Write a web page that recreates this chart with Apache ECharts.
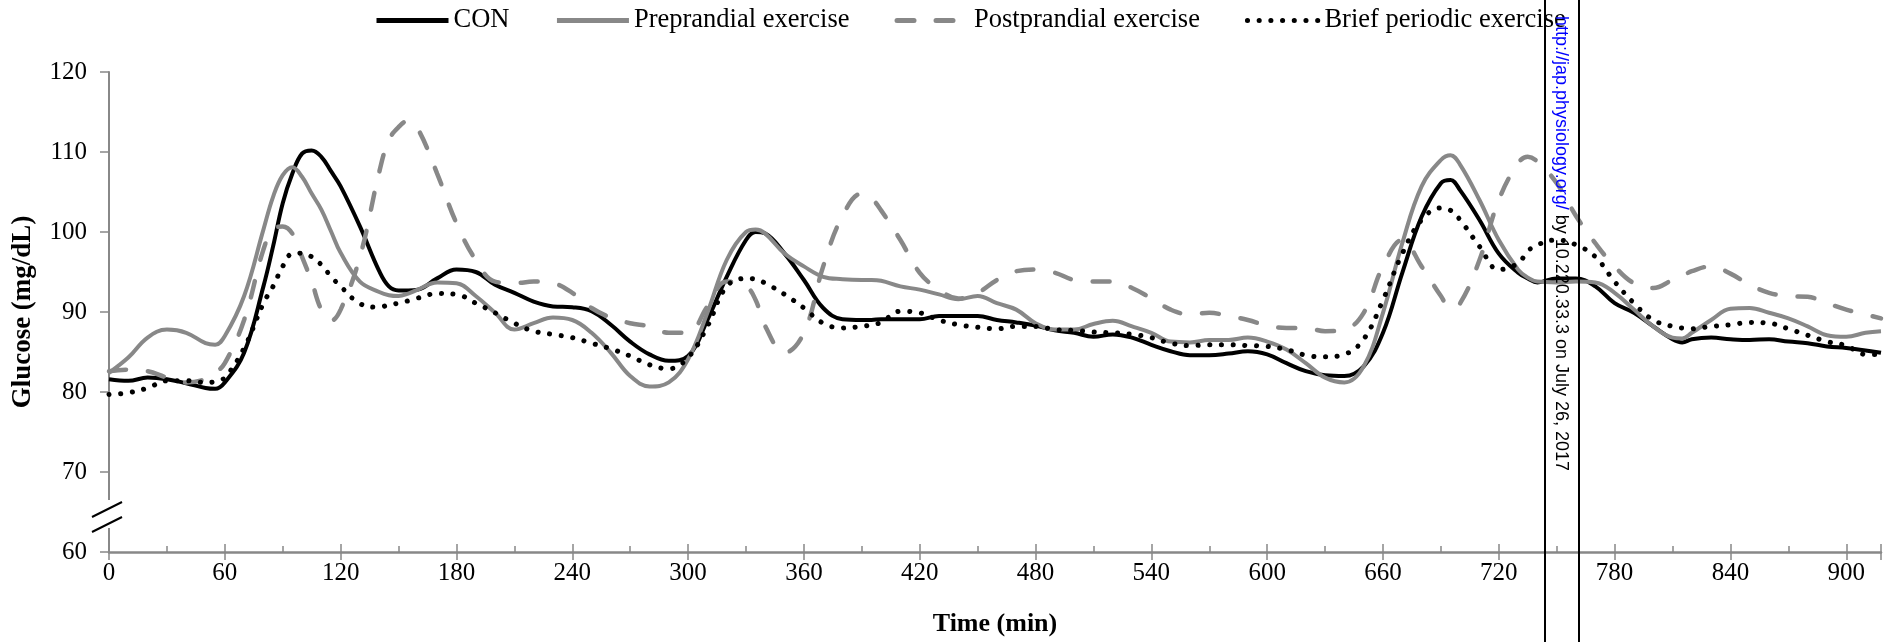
<!DOCTYPE html>
<html>
<head>
<meta charset="utf-8">
<script src="https://cdn.jsdelivr.net/npm/echarts@6/dist/echarts.min.js"></script>
<style>
html, body { margin: 0; padding: 0; background: #fff; }
#glucose { width: 1884px; height: 642px; }
</style>
</head>
<body>
<div id="glucose"></div>
<script>
// time points (min)
const minutes = [0, 10, 20, 30, 40, 50, 55, 60,
    70, 80, 85, 90, 95, 100, 105, 110, 115,
    120, 130, 140, 145, 150, 155, 160, 170, 180, 190,
    200, 210, 220, 230, 240, 250, 260, 270, 280, 290, 300,
    310, 320, 330, 335, 340, 350, 360, 370, 380, 390, 395, 400,
    410, 420, 430, 440, 450, 460, 470, 480, 490, 500,
    510, 520, 530, 540, 550, 560, 570, 580, 590, 600,
    610, 620, 630, 640, 650, 660, 670, 680, 690,
    695, 700, 710, 720, 730, 735, 740, 750, 760,
    770, 780, 790, 800, 810, 815, 820, 830, 840, 850, 860, 870, 880, 890, 900, 910, 918];

const con = [81.6, 81.4, 81.8, 81.6, 81.1, 80.5, 80.4, 81.2,
    84.9, 93.2, 98.2, 103.6, 107.3, 109.8, 110.2, 109.4, 107.6,
    105.7, 100.7, 95.1, 93.2, 92.7, 92.7, 92.8, 94.2, 95.3, 95.0,
    93.4, 92.4, 91.3, 90.7, 90.6, 90.1, 88.4, 86.3, 84.7, 83.9, 84.5,
    89.0, 94.4, 99.0, 100.0, 99.8, 97.3, 94.0, 90.5, 89.1, 89.0, 89.0, 89.1,
    89.1, 89.1, 89.5, 89.5, 89.5, 89.0, 88.7, 88.3, 87.7, 87.4,
    86.9, 87.2, 86.8, 85.9, 85.1, 84.6, 84.6, 84.8, 85.1, 84.7,
    83.6, 82.6, 82.1, 82.0, 83.2, 87.4, 94.9, 101.9, 106.1,
    106.5, 105.2, 101.5, 97.3, 94.9, 94.2, 93.7, 94.2, 94.2,
    93.2, 91.1, 89.9, 88.2, 86.6, 86.2, 86.6, 86.8, 86.6, 86.5, 86.6, 86.3, 86.1, 85.7, 85.5, 85.2, 84.9];

const preprandial = [82.4, 84.3, 86.8, 87.8, 87.4, 86.1, 85.9, 87.0,
    92.0, 100.3, 104.4, 107.1, 108.1, 106.9, 104.8, 102.8, 100.1,
    97.4, 93.8, 92.5, 92.1, 92.0, 92.3, 92.8, 93.7, 93.6, 92.0,
    89.9, 87.8, 88.6, 89.3, 89.0, 87.4, 84.9, 82.0, 80.7, 81.2, 84.1,
    89.9, 96.5, 100.0, 100.3, 99.8, 97.3, 95.7, 94.4, 94.1, 94.0, 94.0, 93.9,
    93.2, 92.8, 92.2, 91.6, 92.0, 91.1, 90.3, 88.6, 87.8, 87.8,
    88.5, 88.9, 88.2, 87.4, 86.3, 86.2, 86.5, 86.5, 86.8, 86.3,
    85.3, 83.6, 81.8, 81.2, 83.2, 89.9, 98.6, 105.7, 109.0,
    109.6, 108.4, 104.0, 99.0, 95.3, 94.3, 93.8, 93.7, 93.8,
    93.7, 92.4, 90.3, 88.2, 86.8, 86.7, 87.4, 89.0, 90.4, 90.5, 89.9, 89.2, 88.2, 87.1, 86.9, 87.4, 87.6];

const postprandial = [82.6, 82.8, 82.6, 81.8, 81.2, 81.6, 82.4, 83.6,
    89.0, 97.8, 100.3, 100.7, 99.8, 96.9, 93.8, 90.3, 88.9,
    90.3, 96.9, 107.5, 111.5, 113.1, 113.9, 112.9, 107.3, 101.1, 96.5,
    93.8, 93.6, 93.8, 93.6, 92.4, 90.5, 89.3, 88.6, 88.2, 87.4, 87.4,
    90.7, 93.8, 93.2, 91.5, 88.2, 84.9, 87.4, 95.7, 102.0, 104.8, 104.2, 102.7,
    99.0, 94.9, 92.8, 91.7, 92.4, 94.0, 95.1, 95.3, 94.9, 94.0,
    93.8, 93.8, 93.0, 91.7, 90.3, 89.7, 89.9, 89.5, 89.0, 88.3,
    88.0, 88.0, 87.6, 87.8, 89.9, 95.7, 99.0, 95.7, 92.0,
    90.5, 91.1, 96.5, 104.0, 108.6, 109.4, 108.8, 106.1, 102.0,
    98.6, 95.7, 93.6, 93.0, 94.0, 94.5, 95.1, 95.7, 94.8, 93.4, 92.4, 92.0, 91.9, 91.1, 90.3, 89.7, 89.2];

const briefPeriodic = [79.7, 79.9, 80.5, 81.4, 81.4, 81.2, 81.3, 81.8,
    85.5, 91.1, 93.2, 95.7, 97.3, 97.35, 96.9, 95.9, 94.45,
    93.2, 91.05, 90.6, 90.9, 91.1, 91.4, 91.75, 92.3, 92.2, 91.1,
    89.9, 88.6, 87.6, 87.2, 86.8, 86.1, 85.4, 84.5, 83.4, 82.9, 84.3,
    88.2, 93.2, 94.2, 94.1, 93.6, 92.2, 90.5, 88.6, 88.0, 88.2, 88.4, 88.7,
    90.1, 89.9, 89.0, 88.4, 88.1, 87.9, 88.2, 88.2, 87.8, 87.7,
    87.5, 87.4, 87.2, 86.8, 86.1, 85.8, 85.9, 85.9, 85.8, 85.7,
    85.3, 84.6, 84.4, 84.7, 86.6, 91.5, 97.3, 101.5, 103.0,
    102.7, 101.5, 98.2, 95.3, 96.1, 97.6, 98.4, 99.0, 98.4,
    96.9, 93.8, 91.1, 89.0, 88.2, 88.0, 87.9, 88.2, 88.4, 88.7, 88.6, 87.9, 87.1, 86.3, 85.8, 84.7, 84.7];

const seriesNames = ['CON', 'Preprandial exercise', 'Postprandial exercise', 'Brief periodic exercise'];

const serif = 'Liberation Serif';
const grey = '#888888';

const pairs = values => minutes.map((m, i) => [m, values[i]]);

const line = (name, values, color, lineStyle) => ({
    type: 'line',
    name: name,
    data: pairs(values),
    symbol: 'none',
    smooth: 0.4,
    color: color,
    lineStyle: Object.assign({ color: color }, lineStyle)
});

echarts.init(document.getElementById('glucose'))
    .setOption({
        animation: false,
        textStyle: {
            fontFamily: serif,
            color: '#000'
        },
        legend: {
            left: 369,
            top: 2,
            itemWidth: 72,
            itemHeight: 14,
            itemGap: 45,
            itemStyle: { opacity: 0 },
            lineStyle: { width: 5 },
            textStyle: {
                fontFamily: serif,
                fontSize: 26.5,
                color: '#000'
            },
            data: seriesNames
        },
        grid: {
            left: 109,
            right: 0,
            top: 72,
            bottom: 89
        },
        xAxis: [{
            type: 'value',
            min: 0,
            max: 918,
            interval: 60,
            position: 'bottom',
            name: 'Time (min)',
            nameLocation: 'middle',
            nameGap: 59,
            nameTextStyle: {
                fontFamily: serif,
                fontSize: 26,
                fontWeight: 'bold',
                color: '#000'
            },
            axisLine: {
                lineStyle: { color: grey, width: 2.5 }
            },
            axisTick: {
                length: 8,
                lineStyle: { color: grey, width: 1.5 }
            },
            axisLabel: {
                margin: 9,
                fontFamily: serif,
                fontSize: 25,
                color: '#000',
                formatter: v => v % 60 === 0 ? String(v) : ''
            },
            splitLine: { show: false }
        }, {
            // inner half of the crossing ticks, plus the 30-min minor ticks
            type: 'value',
            min: 0,
            max: 918,
            interval: 60,
            position: 'bottom',
            axisLine: { show: false },
            axisLabel: { show: false },
            axisTick: {
                inside: true,
                length: 8,
                lineStyle: { color: grey, width: 1.5 }
            },
            minorTick: {
                show: true,
                splitNumber: 2,
                length: 6,
                lineStyle: { color: grey, width: 1.5 }
            },
            splitLine: { show: false }
        }],
        yAxis: {
            type: 'value',
            min: 60,
            max: 120,
            interval: 10,
            name: 'Glucose (mg/dL)',
            nameLocation: 'middle',
            nameRotate: 90,
            nameGap: 72,
            nameTextStyle: {
                fontFamily: serif,
                fontSize: 27,
                fontWeight: 'bold',
                color: '#000'
            },
            axisLine: {
                show: true,
                lineStyle: { color: grey, width: 2 }
            },
            axisTick: {
                show: true,
                length: 9,
                lineStyle: { color: grey, width: 1.5 }
            },
            axisLabel: {
                margin: 22,
                fontFamily: serif,
                fontSize: 25,
                color: '#000'
            },
            splitLine: { show: false }
        },
        series: [
            line(seriesNames[0], con, '#000', { width: 4 }),
            line(seriesNames[1], preprandial, grey, { width: 4 }),
            line(seriesNames[2], postprandial, grey, { width: 4.5, type: [17, 22], cap: 'round' }),
            line(seriesNames[3], briefPeriodic, '#000', { width: 5, type: [0.1, 11.6], cap: 'round' })
        ],
        graphic: [
            // axis break on the y axis
            { type: 'rect', z: 100, shape: { x: 102, y: 500, width: 14, height: 28 }, style: { fill: '#fff' } },
            { type: 'line', z: 101, shape: { x1: 92, y1: 517, x2: 122, y2: 502 }, style: { stroke: '#000', lineWidth: 2 } },
            { type: 'line', z: 101, shape: { x1: 92, y1: 532, x2: 122, y2: 517 }, style: { stroke: '#000', lineWidth: 2 } },
            // download stamp down the right side
            { type: 'line', z: 100, shape: { x1: 1545, y1: 0, x2: 1545, y2: 642 }, style: { stroke: '#000', lineWidth: 2 } },
            { type: 'line', z: 100, shape: { x1: 1579, y1: 0, x2: 1579, y2: 642 }, style: { stroke: '#000', lineWidth: 2 } },
            {
                type: 'text',
                z: 100,
                x: 1561,
                y: 471,
                rotation: -Math.PI / 2,
                style: {
                    text: '{link|http://jap.physiology.org/} by 10.220.33.3 on July 26, 2017',
                    fontFamily: 'Liberation Sans',
                    fontSize: 18,
                    fill: '#000',
                    align: 'right',
                    verticalAlign: 'middle',
                    rich: {
                        link: { fill: '#0000ff', fontFamily: 'Liberation Sans', fontSize: 18 }
                    }
                }
            }
        ]
    });
</script>
</body>
</html>
